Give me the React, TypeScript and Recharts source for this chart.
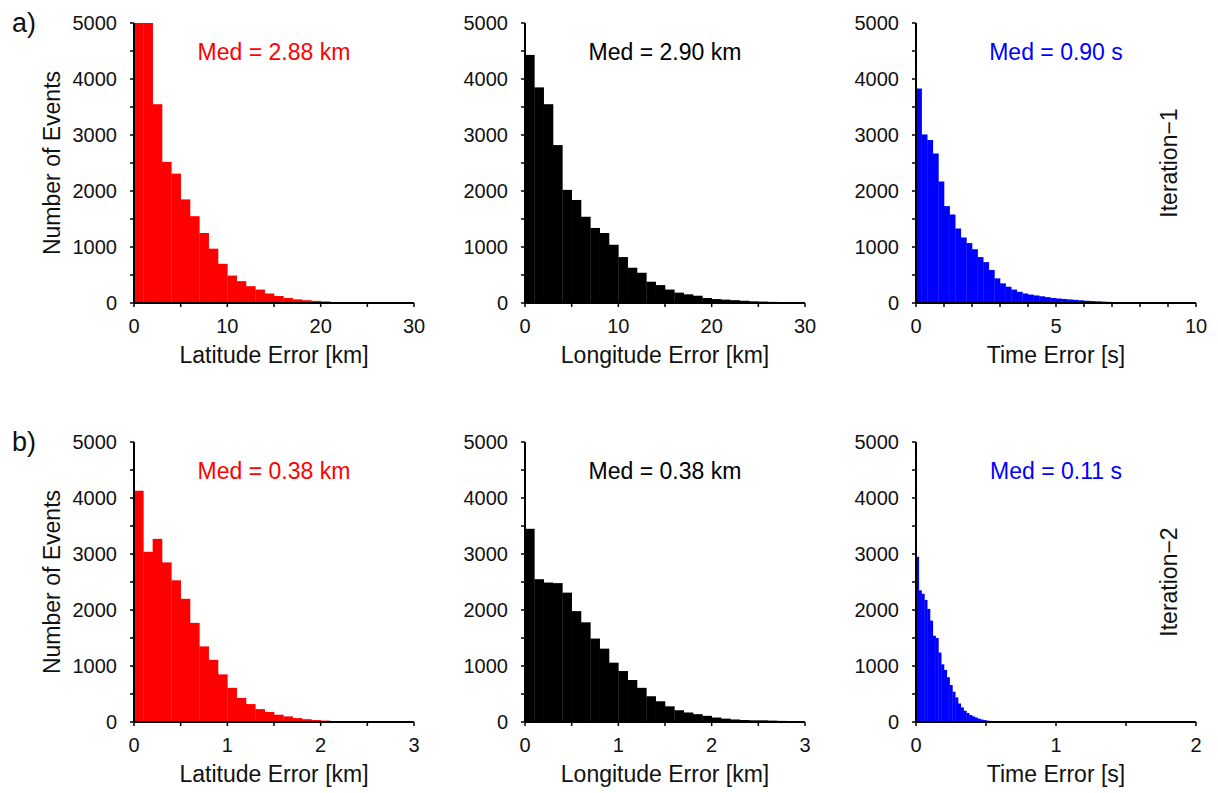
import React from 'react';
import { BarChart, Bar, XAxis, YAxis } from 'recharts';

// counts per bin
const latErrIter1 = [5000, 5000, 3550, 2520, 2310, 1850, 1550, 1250, 970, 700, 490, 390, 300, 240, 170, 125, 90, 65, 50, 38, 28, 18, 10, 6, 4, 3, 2, 1, 1, 0];
const lonErrIter1 = [4430, 3850, 3550, 2820, 2020, 1840, 1540, 1340, 1250, 1040, 820, 630, 540, 380, 320, 240, 185, 155, 130, 90, 70, 60, 50, 40, 30, 25, 20, 15, 10, 10];
const timeErrIter1 = [3830, 3010, 2910, 2670, 2170, 1730, 1580, 1330, 1170, 1070, 960, 820, 730, 590, 440, 350, 290, 240, 200, 170, 150, 135, 120, 105, 90, 80, 72, 64, 56, 48, 40, 35, 30, 25, 20, 15, 10, 7, 5, 3, 2];
const latErrIter2 = [4130, 3040, 3270, 2850, 2530, 2200, 1770, 1350, 1110, 850, 610, 430, 320, 230, 180, 130, 100, 70, 50, 35, 25, 15, 10, 5, 3, 2, 1, 1, 0, 0];
const lonErrIter2 = [3450, 2550, 2490, 2480, 2310, 1980, 1780, 1490, 1310, 1060, 910, 750, 610, 460, 370, 280, 210, 170, 140, 110, 80, 60, 45, 35, 30, 30, 25, 20, 15, 10];
const timeErrIter2 = [2950, 2350, 2290, 2180, 2020, 1810, 1540, 1500, 1240, 1030, 930, 800, 660, 540, 440, 330, 260, 200, 160, 125, 100, 80, 60, 45, 35, 25, 20, 14, 10, 7, 5, 3, 2, 1];

const countTicks = [0, 500, 1000, 1500, 2000, 2500, 3000, 3500, 4000, 4500, 5000];
const countLabels = [0, 1000, 2000, 3000, 4000, 5000];
const ticks30 = [0, 5, 10, 15, 20, 25, 30];
const labels30 = [0, 10, 20, 30];
const ticks10 = [0, 1, 2, 3, 4, 5, 6, 7, 8, 9, 10];
const labels10 = [0, 5, 10];
const ticks3 = [0, 0.5, 1, 1.5, 2, 2.5, 3];
const labels3 = [0, 1, 2, 3];
const ticks2 = [0, 0.5, 1, 1.5, 2];
const labels2 = [0, 1, 2];

const RED = '#ff0000';
const BLACK = '#000000';
const BLUE = '#0000ff';
const TEXT = '#111';
const FONT = '"Liberation Sans", Arial, Helvetica, sans-serif';

const PLOT_W = 280;
const PLOT_H = 280;
const PAD_L = 100;
const PAD_T = 30;

const XTick = (props: any) => {
  const { x, y, payload, labels } = props;
  const major = labels.includes(payload.value);
  return (
    <g>
      <line x1={x} y1={y} x2={x} y2={y + 4} stroke="#000" strokeWidth={1.5} />
      {major && (
        <text x={x} y={y + 30} textAnchor="middle" fontSize={20} fill={TEXT} fontFamily={FONT}>
          {payload.value}
        </text>
      )}
    </g>
  );
};

const YTick = (props: any) => {
  const { x, y, payload } = props;
  const major = countLabels.includes(payload.value);
  return (
    <g>
      <line x1={x} y1={y} x2={x - 4} y2={y} stroke="#000" strokeWidth={1.5} />
      {major && (
        <text x={x - 17} y={y + 7} textAnchor="end" fontSize={20} fill={TEXT} fontFamily={FONT}>
          {payload.value}
        </text>
      )}
    </g>
  );
};

interface PanelProps {
  counts: number[];
  binWidth: number;
  xMax: number;
  xTicks: number[];
  xLabels: number[];
  colour: string;
  median: string;
  xTitle: string;
  left: number;
  top: number;
  yTitle?: boolean;
}

const Panel: React.FC<PanelProps> = ({ counts, binWidth, xMax, xTicks, xLabels, colour, median, xTitle, left, top, yTitle }) => {
  const data = counts.map((c, i) => ({ x: (i + 0.5) * binWidth, count: c }));
  const w = PLOT_W + PAD_L + 20;
  const h = PLOT_H + PAD_T + 80;
  // recharts floors the bar width to whole pixels, so draw each bin at its true width
  const binPx = (PLOT_W * binWidth) / xMax;
  const binShape = (p: any) =>
    p.height > 0 ? <rect x={p.x} y={p.y} width={binPx + 0.3} height={p.height} fill={colour} /> : <g />;
  return (
    <div style={{ position: 'absolute', left: left - PAD_L, top: top - PAD_T, width: w, height: h }}>
      <BarChart width={w} height={h} data={data} margin={{ top: PAD_T, right: 20, bottom: 0, left: 0 }} barCategoryGap={0} barGap={0}>
        <XAxis
          type="number"
          dataKey="x"
          domain={[0, xMax]}
          allowDataOverflow
          ticks={xTicks}
          interval={0}
          tickLine={false}
          tickSize={0}
          tickMargin={0}
          tick={<XTick labels={xLabels} />}
          axisLine={{ stroke: '#000', strokeWidth: 2 }}
          height={80}
        />
        <YAxis
          type="number"
          domain={[0, 5000]}
          allowDataOverflow
          ticks={countTicks}
          interval={0}
          tickLine={false}
          tickSize={0}
          tickMargin={0}
          tick={<YTick />}
          axisLine={{ stroke: '#000', strokeWidth: 2 }}
          width={PAD_L}
        />
        <Bar dataKey="count" fill={colour} shape={binShape} isAnimationActive={false} />
      </BarChart>
      <svg width={w} height={h} style={{ position: 'absolute', left: 0, top: 0, pointerEvents: 'none' }} fontFamily={FONT}>
        <text x={PAD_L + PLOT_W / 2} y={PAD_T + 37} textAnchor="middle" fontSize={23} fill={colour}>
          {median}
        </text>
        <text x={PAD_L + PLOT_W / 2} y={PAD_T + PLOT_H + 60} textAnchor="middle" fontSize={23} fill={TEXT}>
          {xTitle}
        </text>
        {yTitle && (
          <text
            x={PAD_L - 74}
            y={PAD_T + PLOT_H / 2}
            textAnchor="middle"
            fontSize={23}
            fill={TEXT}
            transform={`rotate(-90 ${PAD_L - 74} ${PAD_T + PLOT_H / 2})`}
          >
            Number of Events
          </text>
        )}
      </svg>
    </div>
  );
};

const App: React.FC = () => (
  <div style={{ position: 'absolute', left: 0, top: 0, width: 1218, height: 793, background: '#fff', fontFamily: FONT }}>
    <Panel counts={latErrIter1} binWidth={1} xMax={30} xTicks={ticks30} xLabels={labels30} colour={RED} median="Med = 2.88 km" xTitle="Latitude Error [km]" left={134} top={23} yTitle />
    <Panel counts={lonErrIter1} binWidth={1} xMax={30} xTicks={ticks30} xLabels={labels30} colour={BLACK} median="Med = 2.90 km" xTitle="Longitude Error [km]" left={525} top={23} />
    <Panel counts={timeErrIter1} binWidth={0.2} xMax={10} xTicks={ticks10} xLabels={labels10} colour={BLUE} median="Med = 0.90 s" xTitle="Time Error [s]" left={916} top={23} />
    <Panel counts={latErrIter2} binWidth={0.1} xMax={3} xTicks={ticks3} xLabels={labels3} colour={RED} median="Med = 0.38 km" xTitle="Latitude Error [km]" left={134} top={442} yTitle />
    <Panel counts={lonErrIter2} binWidth={0.1} xMax={3} xTicks={ticks3} xLabels={labels3} colour={BLACK} median="Med = 0.38 km" xTitle="Longitude Error [km]" left={525} top={442} />
    <Panel counts={timeErrIter2} binWidth={0.02} xMax={2} xTicks={ticks2} xLabels={labels2} colour={BLUE} median="Med = 0.11 s" xTitle="Time Error [s]" left={916} top={442} />
    <svg width={1218} height={793} style={{ position: 'absolute', left: 0, top: 0, pointerEvents: 'none' }} fontFamily={FONT}>
      <text x={12} y={32} fontSize={27} fill={TEXT}>a)</text>
      <text x={12} y={451} fontSize={27} fill={TEXT}>b)</text>
      <text x={1177} y={163} textAnchor="middle" fontSize={23} fill={TEXT} transform="rotate(-90 1177 163)">Iteration−1</text>
      <text x={1177} y={582} textAnchor="middle" fontSize={23} fill={TEXT} transform="rotate(-90 1177 582)">Iteration−2</text>
    </svg>
  </div>
);

export default App;
